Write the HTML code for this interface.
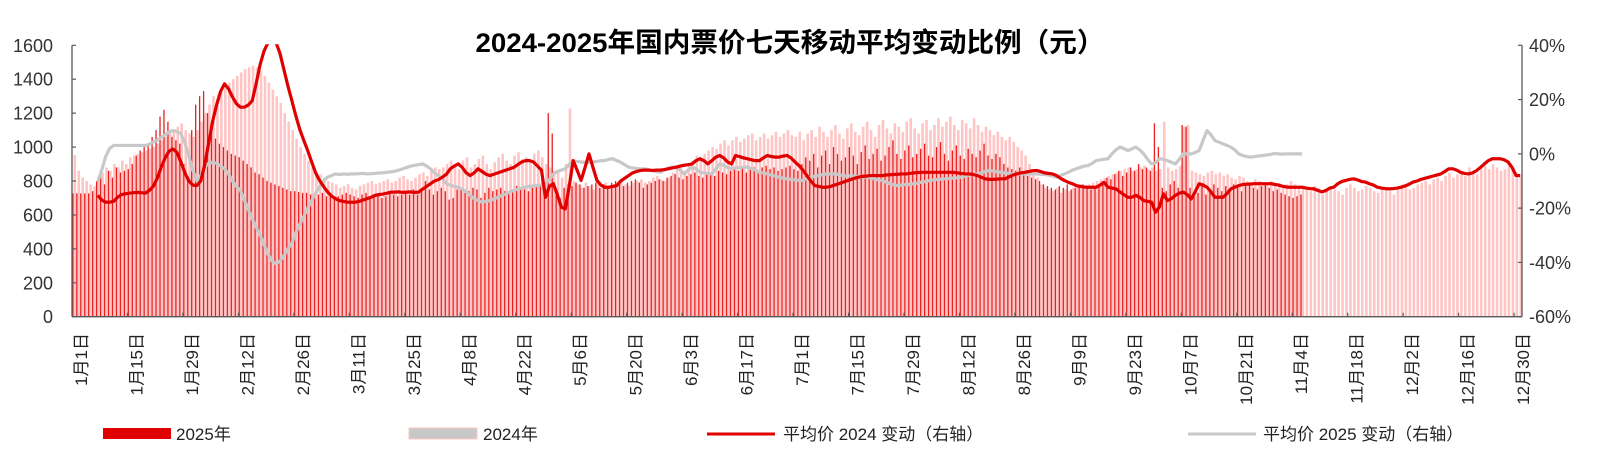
<!DOCTYPE html>
<html><head><meta charset="utf-8">
<style>
html,body{margin:0;padding:0;background:#fff;}
svg{display:block;font-family:"Liberation Sans","Noto Sans CJK SC",sans-serif;}
</style></head>
<body>
<svg id="chart" width="1607" height="455" viewBox="0 0 1607 455">
<text x="790" y="52" text-anchor="middle" font-size="27" font-weight="bold" fill="#000" textLength="629" lengthAdjust="spacingAndGlyphs">2024-2025年国内票价七天移动平均变动比例（元）</text>
<g id="bars"></g>
<g id="lines"></g>
<g id="axes"></g>
<g id="legend">
  <rect x="103" y="428" width="68" height="11" fill="#E00000"/>
  <text x="176" y="440" font-size="17" fill="#222">2025年</text>
  <rect x="409" y="428" width="68" height="11" fill="#C8C8C8" stroke="#FFC4C4" stroke-width="1"/>
  <text x="483" y="440" font-size="17" fill="#222">2024年</text>
  <line x1="707" y1="434" x2="775" y2="434" stroke="#E00000" stroke-width="3"/>
  <text x="783" y="440" font-size="17" fill="#222">平均价 2024 变动（右轴）</text>
  <line x1="1188" y1="434" x2="1256" y2="434" stroke="#C8C8C8" stroke-width="3"/>
  <text x="1263" y="440" font-size="17" fill="#222">平均价 2025 变动（右轴）</text>
</g>
</svg>
<script>
const bars2025 = [727,727,727,727,727,740,
800,830,780,860,820,880,850,860,870,
900,950,980,1000,1020,
1060,1100,1180,1220,1150,1060,
1040,1020,900,800,
1100,1250,1300,1330,1200,1100,
1050,1020,1000,980,960,950,940,920,900,880,
850,840,820,800,790,780,770,760,750,740,740,735,730,730,
720,710,720,730,710,720,700,710,720,730,720,710,700,720,730,710,720,720,700,710,730,720,710,720,740,720,750,720,760,800,750,720,740,
760,740,690,700,750,760,730,740,760,750,700,730,760,740,750,760,740,730,750,770,760,750,740,760,770,780,760,
1200,1080,
750,700,760,780,770,790,780,760,770,780,790,760,780,770,790,800,780,770,790,800,810,790,760,780,790,800,810,800,
820,830,840,820,810,830,840,850,830,820,840,850,830,860,850,840,860,
870,860,880,850,870,880,860,880,890,870,880,860,870,880,890,870,860,
900,940,920,960,880,950,980,900,1000,960,920,940,1000,950,900,970,1010,930,960,990,920,950,1000,1040,960,930,980,1010,940,960,990,1020,950,940,1000,1030,960,920,980,1010,950,930,990,960,940,980,1020,950,930,960,940,
900,880,870,860,880,850,830,820,810,800,
780,770,760,750,770,760,780,750,760,770,780,760,750,770,780,
800,820,810,840,860,830,850,880,860,900,870,880,860,
1140,1000,
760,740,780,800,760,
1130,1120,
760,740,730,770,720,750,780,760,740,770,750,780,760,740,770,790,760,750,770,780,760,740,750,730,720,710,700,710,720];

const bars2024 = [953,860,820,800,780,770,
820,850,880,860,900,880,920,900,940,950,960,970,980,990,
1000,1020,1040,1060,1080,1100,1120,1140,1100,1080,1060,
1100,1150,1200,1250,1300,1280,1320,1350,1380,1400,
1420,1440,1460,1470,1480,1470,1450,1420,1380,
1340,1300,1260,1200,1150,1100,1050,1000,960,920,
880,850,840,820,800,790,780,
760,770,780,760,750,770,780,790,800,780,790,800,810,790,800,820,830,810,800,820,840,850,830,860,880,870,
880,900,920,890,870,920,940,880,900,930,950,900,870,910,940,960,920,900,950,970,930,940,920,960,980,940,900,880,860,850,820,900,
1228,
800,780,760,790,770,750,780,760,790,
770,780,790,800,780,770,790,800,810,790,800,820,830,810,800,820,850,870,890,860,900,920,950,940,960,980,1000,990,1020,1040,
1010,1040,1060,1030,1050,1070,1080,1040,1060,1080,1050,1070,1090,1060,1080,1100,1070,1060,1090,
1040,1080,1100,1060,1120,1090,1060,1100,1130,1080,1050,1110,1140,1090,1070,1120,1150,1100,1060,1130,1160,1110,1080,1140,1120,1090,1150,1170,1110,1080,1140,1160,1100,1130,1170,1120,1150,1180,1130,1100,1160,1140,1110,1170,1130,1090,1120,1100,1070,1090,1060,1040,1060,1030,1000,980,
950,900,860,820,780,760,750,740,760,730,750,740,760,770,780,760,780,790,800,810,
820,830,840,850,860,870,880,860,870,880,890,870,880,860,870,
1150,
880,860,870,890,
1120,1130,
860,850,840,830,850,860,840,850,830,840,820,810,830,820,800,790,810,800,780,790,800,780,790,770,780,800,780,770,
760,750,740,770,760,720,740,760,750,740,720,760,780,760,740,750,770,760,740,730,760,750,740,720,760,780,770,750,760,780,
790,800,780,810,820,800,830,850,820,840,860,830,880,860,840,880,890,870,900,880,860,870,900,880,850,840];

const avg2024Start = 6;
const avg2024 = [-15.3,-17,-17.8,-17.8,-17.5,-16,-15,-14.7,-14.5,-14.3,-14.2,-14.3,-14.5,-13.5,
-12,-9,-5,-1.5,1,1.8,0.5,-3,-7,-10,-11.5,-11.7,-10,-4,4,12,18,23,25.8,24,21,18.5,17.2,17.2,18,19.6,
26,33,38,41,42,41,37,31,25,19.6,14,9,5,1.2,-3,-7,-9.8,-12,-14,-15.5,-16.5,-17.2,-17.5,-17.8,-17.8,-17.8,
-17.5,-17,-16.5,-16,-15.3,-15,-14.8,-14.5,-14.1,-14.1,-14,-14.2,-14.1,-14,-14.2,-14.1,-13,-12,-11,-10,-9.5,
-8.6,-7.5,-5.5,-4.5,-3.7,-5,-7,-8,-7,-5.5,-6.5,-7.5,-8,-7.5,-7,-6.5,-6,-5.5,-5,-4,-3,-2.5,-2.5,-3,-4.5,-6,
-16,-12,-11,-15,-19.6,-20.3,-12,-2.5,-6,-9.8,-5,0,-5,-9.8,-11.5,-12.3,-12.3,-12,-11.7,-10,-9,-8,-7,-6.5,-6.1,
-6,-6,-6.1,-6,-6,-5.8,-5.5,-5.2,-4.9,-4.5,-4.2,-4,-3.7,-2.5,-1.8,-2.5,-3.7,-2.5,-1.2,-0.6,-1.5,-3,-3.7,
-0.6,-1,-1.5,-1.8,-2.2,-2.5,-2.5,-1.5,-0.6,-1,-1.2,-1.2,-0.8,-0.6,-1.5,-3,-4.3,
-6,-8,-10,-11.7,-12,-12.3,-12.3,-12,-11.5,-11,-10.5,-10,-9.5,-9,-8.6,
-8.3,-8.2,-8,-8,-8,-8,-7.8,-7.7,-7.6,-7.5,-7.4,-7.4,
-7.2,-7,-6.9,-6.8,-6.8,-6.8,-6.8,-6.8,-6.8,-6.8,-6.8,-6.8,
-7,-7.2,-7.4,-7.4,-7.6,-8,-8.6,-9.2,-9.4,-9.4,-9.3,-9.2,-9.2,-8.5,-7.8,-7.4,-7,-6.8,-6.5,-6.2,-6.1,
-6.5,-7,-7.2,-7.4,-8,-9,-9.8,-10.5,-11,-11.7,-12,-12.2,-12.3,-12.3,-12.3,-11.5,-10.5,-12.3,-12.6,-12.9,
-14,-15,-16,-16,-15.3,-16,-17.2,-17.5,-17.8,-21.5,-19.5,-14.7,-17.2,-16.5,-15.3,-14.5,-14.1,-15,-16.6,
-14,-11,-11.5,-12.3,-14,-16,-16,-16,-14.7,-12.9,-12.3,-11.7,-11.3,-11.2,-11.1,-11,
-11,-11,-11,-11,-11.2,-11.5,-11.9,-12.2,-12.3,-12.3,-12.3,-12.3,-12.6,-12.8,-12.9,-13.5,-14,-13.5,-12.6,
-12.3,-11,-10.2,-9.8,-9.4,-9.2,-9.6,-10.2,-10.4,-11,-11.5,-12.3,-12.6,-12.8,-12.9,-12.8,-12.6,-12.3,-11.8,
-11.2,-10.4,-10,-9.4,-9,-8.6,-8.2,-7.8,-7.4,-6.5,-5.5,-5.5,-6,-6.8,-7.2,-7.4,-7,-6.2,-5,-3.7,-2.5,-1.8,
-1.8,-1.8,-2.2,-3,-5,-8,-8];

const avg2025Start = 6;
const avg2025 = [-10.4,-6,-1,2,3.1,3.1,3.1,3.1,3.1,3.1,3.1,3.1,3.1,3.5,4.3,5,6,7,8,8.6,8.2,7.4,4,-1,-6,-9.8,
-8,-5,-3.5,-3.1,-3.5,-4.5,-5.5,-7.5,-10,-12,-13.5,-17,-20.5,-24,-27,-30,-33.5,-37,-39.5,-40.5,-39.5,-37.5,
-35,-33,-29,-26,-23,-20,-17.2,-14.5,-12,-10,-8.6,-8,-7.4,-7.6,-7.4,
-7.5,-7.4,-7.4,-7.3,-7.2,-7.4,-7.3,-7.2,-7,-7,-6.8,-6.6,-6.4,-6,-5.5,-5,-4.5,-4.2,-4,-3.7,-4.5,-5.5,-7,-8,
-9,-11,-11.5,-12,-12.3,-13,-14,-15.3,-16.5,-17.2,-17.8,-17.5,-17.2,-16.6,-16,-15.3,-14.7,-14,-13.5,-13,
-12.6,-12.3,-12,-11.8,-11.7,-11.4,-11,-9.5,-7.4,-6.5,-6,-5.5,-4,-2.5,
-2.8,-3,-3.1,-3.1,-3,-2.8,-2.5,-2.5,-2,-1.8,-2.5,-3.1,-4,-4.9,-5.2,-5.4,-5.5,-5.5,-5.8,-6.2,-6.5,-6.8,-6,
-5.2,-4.9,-4.9,-6,-7.4,-6,-4.9,-5.5,-6.8,-7,-7.2,-7.4,-5.5,-3.7,-4.3,-5,-5.5,-5.2,-5,-4.9,-4.9,-5.5,-6,
-6.8,-7,-7.4,-7.8,-8.2,-8.6,-9,-9.2,-9.4,-9.6,-9.8,
-9.8,-9,-8.6,-8.2,-8,-7.6,-7.4,-7.4,-7.4,-7.6,-8,-8.2,-8,-8.2,-8.4,-8.6,-8.6,-8.8,-9.2,-9.6,-9.8,-10.4,
-11,-11.5,-11.7,-11.5,-11.3,-11.2,-11,-10.8,-10.4,-10.2,-9.8,-9.6,-9.4,-9.3,-9.2,
-9,-8.9,-8.8,-8.6,-8.2,-7.8,-7.6,-7.4,-7,-6.5,-6.1,-6.3,-6.6,-6.8,-7,
-7.2,-7.4,-7.4,-7.4,-7.4,-7.4,-7.4,-7.4,-7.5,-7.6,-7.8,-8.2,-8.6,-8,-7.4,-6.8,-6,-5.5,-5,-4.5,-4.3,-3.5,
-2.5,-2.2,-2,-1.8,0,1.5,2.5,2,1.2,1.8,2.5,1.5,0,-2,-3.7,-3.3,-1.8,-2,-2.5,-3.1,-3.7,-2,0,0,0,0.5,1.2,5,
8.6,7,4.9,4.3,3.7,3.1,2.5,1.5,0,-0.6,-1,-1.2,-1,-0.8,-0.6,-0.4,-0.2,0.1,0,-0.1,0,0,0,0,0];

const leftTicks = [0,200,400,600,800,1000,1200,1400,1600];
const rightTicks = [-60,-40,-20,0,20,40];
const dateLabels = ["1月1日","1月15日","1月29日","2月12日","2月26日","3月11日","3月25日","4月8日","4月22日","5月6日","5月20日","6月3日","6月17日","7月1日","7月15日","7月29日","8月12日","8月26日","9月9日","9月23日","10月7日","10月21日","11月4日","11月18日","12月2日","12月16日","12月30日"];

const NS = "http://www.w3.org/2000/svg";
const X0 = 72, X1 = 1522, Y0 = 316.7, YT = 45.3;
const NDAYS = 366;
const DW = (X1 - X0) / NDAYS;
function xDay(d){ return X0 + d * DW; }
function yLeft(v){ return Y0 - (v / 1600) * (Y0 - YT); }
function yRight(p){ return Y0 - ((p + 60) / 100) * (Y0 - YT); }
function mk(tag, attrs, parent){
  const el = document.createElementNS(NS, tag);
  for (const k in attrs) el.setAttribute(k, attrs[k]);
  parent.appendChild(el);
  return el;
}

const barsG = document.getElementById('bars');
bars2024.forEach((v, d) => {
  const r = mk('rect', {x: xDay(d) + 1.5, y: yLeft(v), width: DW - 1.4, height: Y0 - yLeft(v), fill: '#FFC4C4'}, barsG);
  
  
});
bars2025.forEach((v, d) => {
  const r = mk('rect', {x: xDay(d) + 0.2, y: yLeft(v), width: 1.3, height: Y0 - yLeft(v), fill: '#E82020'}, barsG);
  
  
});

const linesG = document.getElementById('lines');
mk('clipPath', {id: 'plotclip'}, linesG);
mk('rect', {x: X0, y: YT - 1, width: X1 - X0, height: Y0 - YT + 2}, linesG.querySelector('#plotclip'));
function linePath(arr, start){
  return arr.map((p, i) => (i ? 'L' : 'M') + (xDay(start + i) + DW / 2).toFixed(2) + ',' + yRight(p).toFixed(2)).join(' ');
}
const g25 = mk('path', {d: linePath(avg2025, avg2025Start), fill: 'none', stroke: '#C8C8C8', 'stroke-width': 3.2, 'stroke-linejoin': 'round', 'clip-path': 'url(#plotclip)'}, linesG);


const r24 = mk('path', {d: linePath(avg2024, avg2024Start), fill: 'none', stroke: '#E00000', 'stroke-width': 3.2, 'stroke-linejoin': 'round', 'clip-path': 'url(#plotclip)'}, linesG);



const axG = document.getElementById('axes');
const la = mk('line', {x1: X0, y1: YT, x2: X0, y2: Y0, stroke: '#595959', 'stroke-width': 1.3}, axG);


const ra = mk('line', {x1: X1, y1: YT, x2: X1, y2: Y0, stroke: '#595959', 'stroke-width': 1.3}, axG);


const ba = mk('line', {x1: X0, y1: Y0, x2: X1, y2: Y0, stroke: '#595959', 'stroke-width': 1.3}, axG);



leftTicks.forEach(v => {
  mk('line', {x1: X0, y1: yLeft(v), x2: X0 + 4, y2: yLeft(v), stroke: '#595959', 'stroke-width': 1.2}, axG);
  const t = mk('text', {x: 53, y: yLeft(v) + 6.5, 'text-anchor': 'end', 'font-size': 18, fill: '#333'}, axG);
  t.textContent = v;
  
  
});
rightTicks.forEach(p => {
  mk('line', {x1: X1 - 4, y1: yRight(p), x2: X1, y2: yRight(p), stroke: '#595959', 'stroke-width': 1.2}, axG);
  const t = mk('text', {x: 1529, y: yRight(p) + 6.5, 'font-size': 18, fill: '#333'}, axG);
  t.textContent = p + '%';
  
  
});
dateLabels.forEach((s, k) => {
  const d = k * 14;
  const tx = xDay(d);
  if (k > 0) mk('line', {x1: tx, y1: Y0 - 4, x2: tx, y2: Y0, stroke: '#595959', 'stroke-width': 1.2}, axG);
  const cx = tx + 9 + 6;
  const t = mk('text', {x: cx, y: 333, 'text-anchor': 'end', 'font-size': 17, fill: '#222', transform: 'rotate(-90 ' + cx + ' 333)'}, axG);
  t.textContent = s;
  
  
});
</script>
</body></html>
